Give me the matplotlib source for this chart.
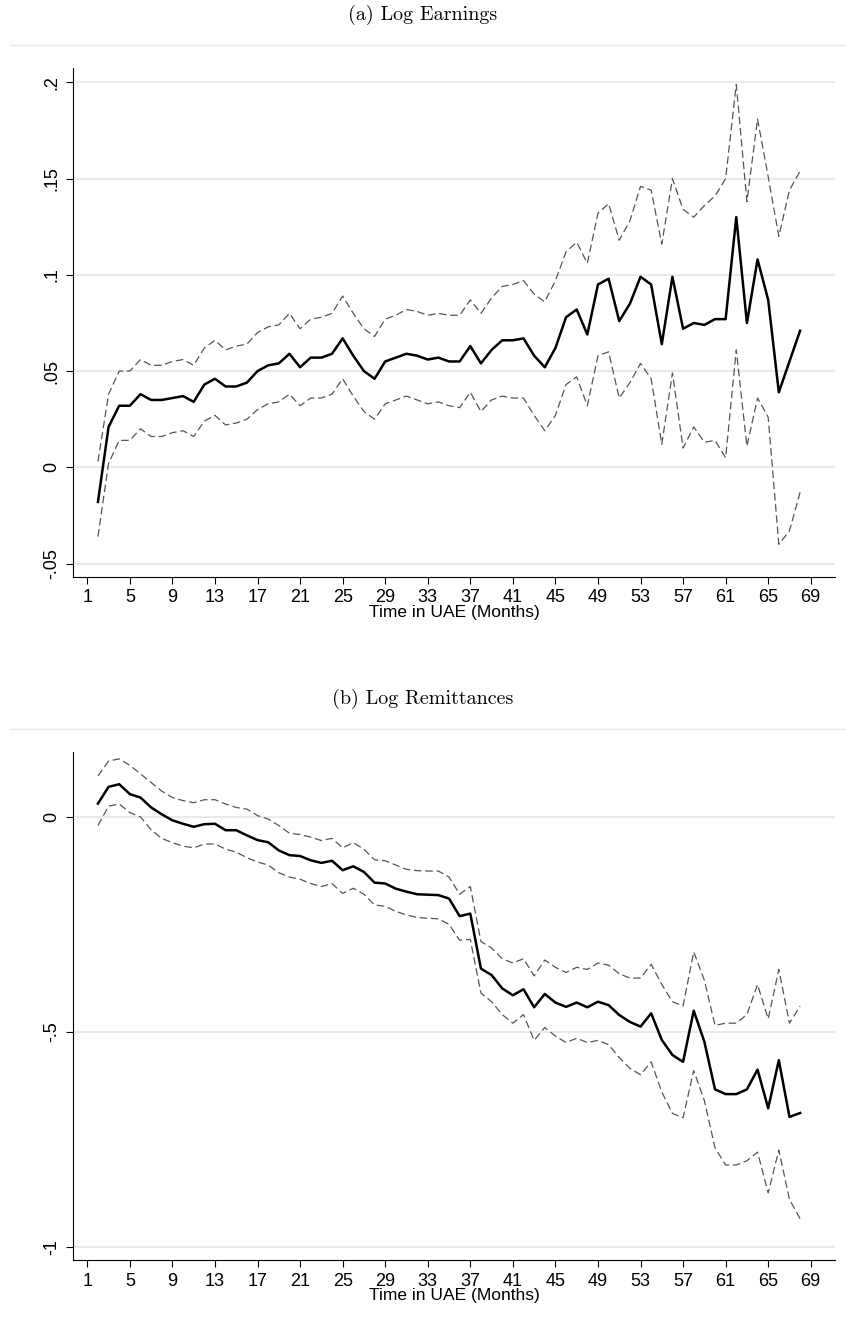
import matplotlib
matplotlib.use("Agg")
import matplotlib.pyplot as plt

months = list(range(2, 69))

# (a) Log Earnings
earn = [-0.018, 0.021, 0.032, 0.032, 0.038, 0.035, 0.035, 0.036, 0.037, 0.034,
        0.043, 0.046, 0.042, 0.042, 0.044, 0.050, 0.053, 0.054, 0.059, 0.052,
        0.057, 0.057, 0.059, 0.067, 0.058, 0.050, 0.046, 0.055, 0.057, 0.059,
        0.058, 0.056, 0.057, 0.055, 0.055, 0.063, 0.054, 0.061, 0.066, 0.066,
        0.067, 0.058, 0.052, 0.062, 0.078, 0.082, 0.069, 0.095, 0.098, 0.076,
        0.085, 0.099, 0.095, 0.064, 0.099, 0.072, 0.075, 0.074, 0.077, 0.077,
        0.130, 0.075, 0.108, 0.087, 0.039, 0.055, 0.071]
earn_hi = [0.003, 0.038, 0.050, 0.050, 0.056, 0.053, 0.053, 0.055, 0.056, 0.053,
           0.062, 0.066, 0.061, 0.063, 0.064, 0.070, 0.073, 0.074, 0.080, 0.072,
           0.077, 0.078, 0.080, 0.089, 0.080, 0.072, 0.068, 0.077, 0.079, 0.082,
           0.081, 0.079, 0.080, 0.079, 0.079, 0.087, 0.080, 0.088, 0.094, 0.095,
           0.097, 0.090, 0.086, 0.097, 0.112, 0.117, 0.106, 0.132, 0.137, 0.118,
           0.128, 0.146, 0.144, 0.116, 0.150, 0.134, 0.130, 0.136, 0.141, 0.150,
           0.199, 0.138, 0.181, 0.151, 0.120, 0.144, 0.154]
earn_lo = [-0.036, 0.002, 0.014, 0.014, 0.020, 0.016, 0.016, 0.018, 0.019, 0.016,
           0.024, 0.027, 0.022, 0.023, 0.025, 0.030, 0.033, 0.034, 0.038, 0.032,
           0.036, 0.036, 0.038, 0.046, 0.037, 0.029, 0.025, 0.033, 0.035, 0.037,
           0.035, 0.033, 0.034, 0.032, 0.031, 0.039, 0.029, 0.035, 0.037, 0.036,
           0.036, 0.027, 0.019, 0.027, 0.043, 0.047, 0.032, 0.058, 0.060, 0.036,
           0.044, 0.054, 0.046, 0.012, 0.049, 0.010, 0.021, 0.013, 0.014, 0.005,
           0.061, 0.011, 0.036, 0.026, -0.040, -0.033, -0.013]

# (b) Log Remittances
remit = [0.031, 0.070, 0.076, 0.053, 0.045, 0.022, 0.006, -0.008, -0.016, -0.023,
         -0.017, -0.016, -0.031, -0.031, -0.043, -0.054, -0.059, -0.078, -0.089, -0.091,
         -0.101, -0.107, -0.102, -0.124, -0.115, -0.128, -0.153, -0.155, -0.167, -0.174,
         -0.180, -0.181, -0.182, -0.190, -0.231, -0.225, -0.353, -0.368, -0.399, -0.415,
         -0.401, -0.443, -0.412, -0.432, -0.442, -0.432, -0.443, -0.430, -0.438, -0.461,
         -0.477, -0.488, -0.457, -0.519, -0.554, -0.570, -0.451, -0.523, -0.634, -0.645,
         -0.645, -0.634, -0.588, -0.678, -0.566, -0.698, -0.689]
remit_hi = [0.095, 0.130, 0.135, 0.120, 0.100, 0.080, 0.060, 0.045, 0.038, 0.033,
            0.040, 0.040, 0.030, 0.022, 0.018, 0.003, -0.005, -0.020, -0.038, -0.041,
            -0.047, -0.055, -0.050, -0.072, -0.060, -0.075, -0.100, -0.102, -0.112, -0.122,
            -0.125, -0.126, -0.126, -0.140, -0.180, -0.162, -0.290, -0.305, -0.330, -0.340,
            -0.330, -0.370, -0.333, -0.350, -0.362, -0.350, -0.355, -0.340, -0.345, -0.365,
            -0.375, -0.375, -0.343, -0.390, -0.430, -0.440, -0.314, -0.380, -0.485, -0.480,
            -0.480, -0.460, -0.390, -0.470, -0.355, -0.480, -0.440]
remit_lo = [-0.020, 0.025, 0.030, 0.010, 0.000, -0.030, -0.050, -0.060, -0.068, -0.072,
            -0.063, -0.063, -0.075, -0.082, -0.095, -0.105, -0.112, -0.130, -0.140, -0.145,
            -0.155, -0.162, -0.155, -0.178, -0.166, -0.180, -0.205, -0.208, -0.220, -0.228,
            -0.234, -0.236, -0.237, -0.250, -0.287, -0.285, -0.410, -0.430, -0.460, -0.480,
            -0.460, -0.520, -0.490, -0.510, -0.525, -0.515, -0.525, -0.520, -0.530, -0.560,
            -0.585, -0.600, -0.570, -0.640, -0.690, -0.700, -0.590, -0.660, -0.770, -0.810,
            -0.810, -0.800, -0.780, -0.875, -0.775, -0.890, -0.935]

xticks = list(range(1, 70, 4))
yticks_a = [-0.05, 0, 0.05, 0.1, 0.15, 0.2]
ylabels_a = ["-.05", "0", ".05", ".1", ".15", ".2"]
yticks_b = [-1, -0.5, 0]
ylabels_b = ["-1", "-.5", "0"]

W, H = 846, 1338
fig = plt.figure(figsize=(W / 100, H / 100), dpi=100)
grid_c = "#e3edf0"


def panel(top, bottom, title, y, hi, lo, ylim, yt, yl):
    # 標題と区切り線
    fig.text(0.5, 1 - (top - 53) / H, title, ha="center", va="center",
             family="cmr10", fontsize=14.5)
    fig.add_artist(plt.Line2D([10 / W, 1], [1 - (top - 23) / H] * 2,
                              color=grid_c, lw=1))
    ax = fig.add_axes([73 / W, 1 - bottom / H, (835 - 73) / W, (bottom - top) / H])
    for v in yt:
        ax.axhline(v, color=grid_c, lw=1.5, zorder=0)
    ax.plot(months, hi, color="#555555", lw=0.9, dashes=(6, 3))
    ax.plot(months, lo, color="#555555", lw=0.9, dashes=(6, 3))
    ax.plot(months, y, color="black", lw=1.8)
    ax.set_xlim(-0.344, 71.28)
    ax.set_ylim(*ylim)
    ax.set_xticks(xticks)
    ax.set_yticks(yt)
    ax.set_yticklabels(yl, rotation=90, va="center")
    ax.tick_params(labelsize=13, length=5, width=0.8, pad=4)
    for lab in ax.get_xticklabels() + ax.get_yticklabels():
        lab.set_family("Liberation Sans")
    ax.spines["top"].set_visible(False)
    ax.spines["right"].set_visible(False)
    ax.set_xlabel("Time in UAE (Months)", family="Liberation Sans",
                  fontsize=12.5, labelpad=-1)
    return ax


panel(68, 577, "(a) Log Earnings", earn, earn_hi, earn_lo,
      (-0.057, 0.2075), yticks_a, ylabels_a)
panel(752, 1260, "(b) Log Remittances", remit, remit_hi, remit_lo,
      (-1.031, 0.151), yticks_b, ylabels_b)

fig.savefig("out.png", dpi=100)
